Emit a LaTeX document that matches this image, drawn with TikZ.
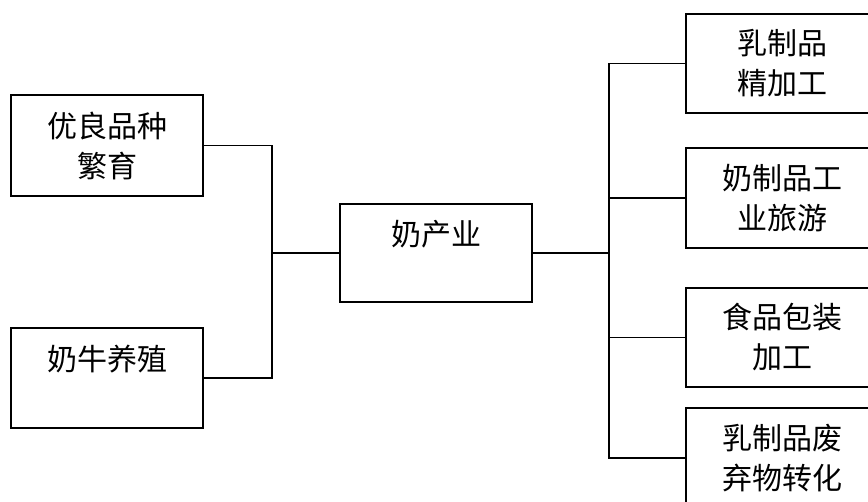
\documentclass[tikz,border=0pt]{standalone}
\usepackage{fontspec}
\newfontfamily\cjk{Noto Sans CJK SC}
\usepackage{tikz}
\usetikzlibrary{positioning}
\tikzset{
  wire/.style    = {line width=1.6pt, line join=miter},
  catbox/.style  = {draw, line width=1.5pt, inner sep=0pt, align=center,
                    minimum width=192pt, font=\cjk\fontsize{30}{40}\selectfont},
}

\begin{document}
\begin{tikzpicture}[x=1pt,y=-1pt]
  \clip (0,0) rectangle (868,502);

  % left side
  \node[catbox,minimum height=101pt] (breed) at (107,145.5) {优良品种\\繁育};
  \node[catbox,minimum height=100pt] (cow)   at (107,378)   {奶牛养殖\\~};

  % center
  \node[catbox,minimum height=98pt]  (milk)  at (436,253)   {奶产业\\~};

  % right side
  \node[catbox,minimum height=99pt]  (fine)  at (782,63.5)  {乳制品\\精加工};
  \node[catbox,minimum height=100pt] (tour)  at (782,198)   {奶制品工\\业旅游};
  \node[catbox,minimum height=99pt]  (pack)  at (782,337.5) {食品包装\\加工};
  \node[catbox,minimum height=100pt] (waste) at (782,458)   {乳制品废\\弃物转化};

  % connectors
  \coordinate (lj) at (272,253);
  \coordinate (rj) at (609,253);
  \draw[wire] (breed.east) -| (lj) |- (cow.east);
  \draw[wire] (lj) -- (milk.west);
  \draw[wire] (milk.east) -- (rj);
  \draw[wire] (rj) |- (fine.west);
  \draw[wire] (rj) |- (tour.west);
  \draw[wire] (rj) |- (pack.west);
  \draw[wire] (rj) |- (waste.west);
\end{tikzpicture}
\end{document}
